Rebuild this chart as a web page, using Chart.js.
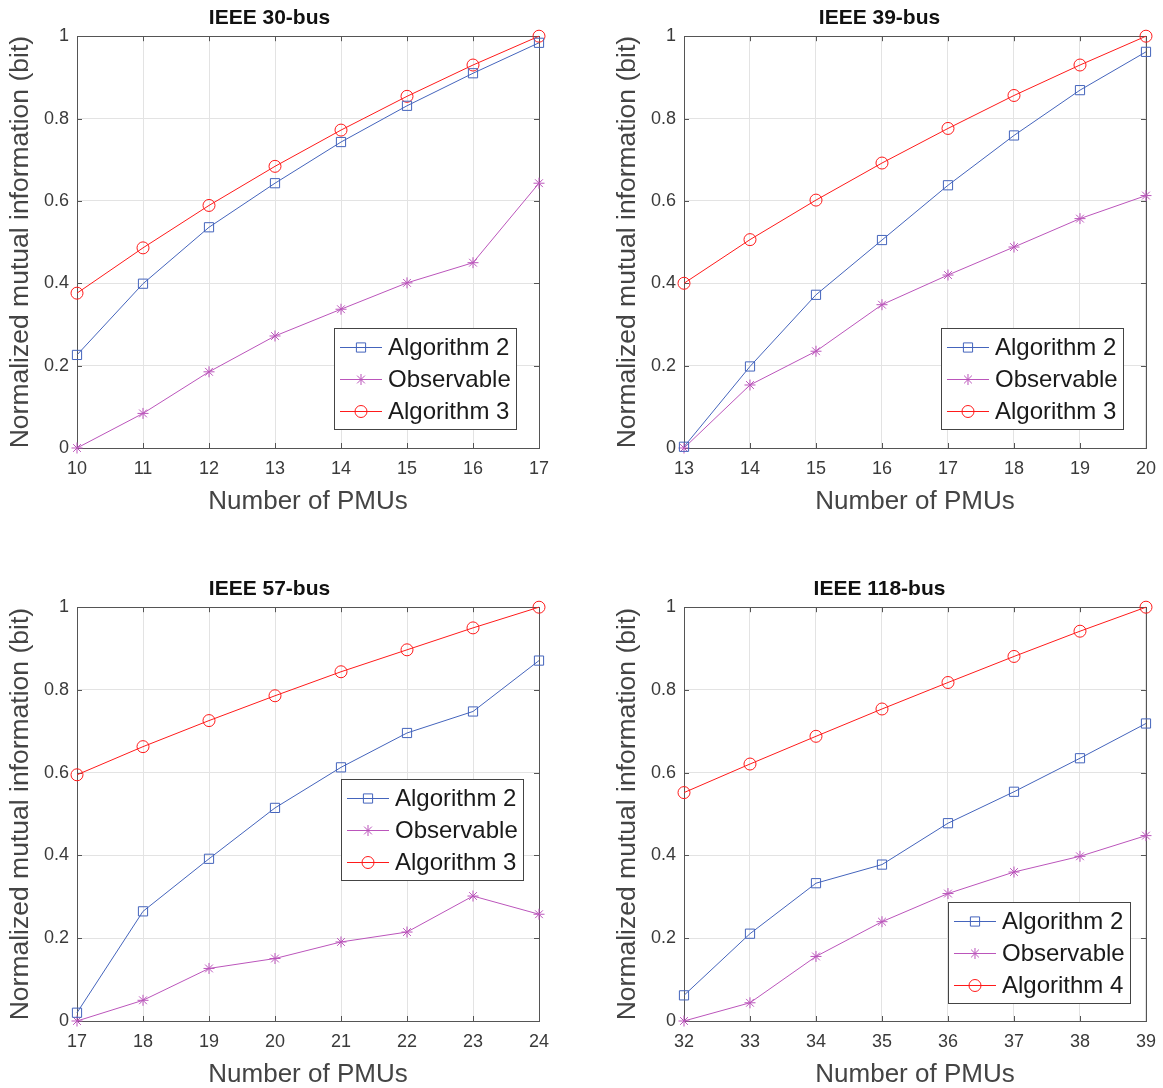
<!DOCTYPE html>
<html>
<head>
<meta charset="utf-8">
<script src="https://cdn.jsdelivr.net/npm/chart.js@4.4.1/dist/chart.umd.min.js"></script>
<style>
  body { margin: 0; background: #fff; }
  #wrap { position: relative; width: 1163px; height: 1088px; overflow: hidden; background: #fff; }
  #wrap canvas { position: absolute; }
</style>
</head>
<body>
<div id="wrap">
  <canvas id="c30" width="560" height="540" style="left:0px;top:0px"></canvas>
  <canvas id="c39" width="559" height="540" style="left:607px;top:0px"></canvas>
  <canvas id="c57" width="560" height="530" style="left:0px;top:571px"></canvas>
  <canvas id="c118" width="559" height="530" style="left:607px;top:571px"></canvas>
</div>
<script>
// ---- data ----
const pmu30 = [10, 11, 12, 13, 14, 15, 16, 17];
const alg2Bus30 = [0.226, 0.399, 0.536, 0.643, 0.743, 0.831, 0.910, 0.984];
const obsBus30 = [0, 0.084, 0.185, 0.272, 0.337, 0.401, 0.450, 0.643];
const alg3Bus30 = [0.376, 0.486, 0.589, 0.684, 0.772, 0.854, 0.930, 1.0];

const pmu39 = [13, 14, 15, 16, 17, 18, 19, 20];
const alg2Bus39 = [0.003, 0.198, 0.372, 0.505, 0.638, 0.759, 0.869, 0.962];
const obsBus39 = [0, 0.153, 0.235, 0.348, 0.420, 0.488, 0.557, 0.613];
const alg3Bus39 = [0.400, 0.506, 0.602, 0.692, 0.776, 0.856, 0.930, 1.0];

const pmu57 = [17, 18, 19, 20, 21, 22, 23, 24];
const alg2Bus57 = [0.020, 0.265, 0.392, 0.515, 0.613, 0.696, 0.748, 0.871];
const obsBus57 = [0, 0.050, 0.127, 0.151, 0.191, 0.215, 0.302, 0.258];
const alg3Bus57 = [0.595, 0.663, 0.726, 0.786, 0.844, 0.897, 0.950, 1.0];

const pmu118 = [32, 33, 34, 35, 36, 37, 38, 39];
const alg2Bus118 = [0.062, 0.211, 0.333, 0.378, 0.478, 0.554, 0.635, 0.719];
const obsBus118 = [0, 0.044, 0.156, 0.240, 0.308, 0.360, 0.398, 0.448];
const alg4Bus118 = [0.552, 0.621, 0.688, 0.754, 0.818, 0.881, 0.942, 1.0];

const seriesNames30 = ["Algorithm 2", "Observable", "Algorithm 3"];
const seriesNames118 = ["Algorithm 2", "Observable", "Algorithm 4"];

const FONT = "'Liberation Sans', Arial, Helvetica, sans-serif";
const BLUE = "#4464bc";
const MAGENTA = "#bb55bb";
const RED = "#ff1a1a";

function pts(xs, ys){
    return xs.map((x, i) => ({x: x, y: ys[i]}));
}

// axes box with inward tick marks, like matlab "box on"
const boxPlugin = {
    id: "axbox",
    beforeDatasetsDraw(chart){
        const ctx = chart.ctx;
        const a = chart.chartArea;
        const xs = chart.scales.x;
        const ys = chart.scales.y;
        ctx.save();
        ctx.strokeStyle = "#555";
        ctx.lineWidth = 1;
        ctx.strokeRect(Math.round(a.left) + 0.5, Math.round(a.top) + 0.5,
            Math.round(a.right - a.left), Math.round(a.bottom - a.top));
        ctx.beginPath();
        xs.ticks.forEach(t => {
            const px = Math.round(xs.getPixelForValue(t.value)) + 0.5;
            ctx.moveTo(px, a.bottom); ctx.lineTo(px, a.bottom - 5);
            ctx.moveTo(px, a.top); ctx.lineTo(px, a.top + 5);
        });
        ys.ticks.forEach(t => {
            const py = Math.round(ys.getPixelForValue(t.value)) + 0.5;
            ctx.moveTo(a.left, py); ctx.lineTo(a.left + 5, py);
            ctx.moveTo(a.right, py); ctx.lineTo(a.right - 5, py);
        });
        ctx.stroke();
        ctx.restore();
    }
};

// boxed legend inside the axes
const boxLegendPlugin = {
    id: "boxLegend",
    afterDraw(chart, args, opts){
        const ctx = chart.ctx;
        const a = chart.chartArea;
        const w = opts.width, h = opts.height;
        const left = a.right - opts.right - w;
        const top = a.bottom - opts.bottom - h;
        ctx.save();
        ctx.fillStyle = "#fff";
        ctx.fillRect(left, top, w, h);
        ctx.strokeStyle = "#444";
        ctx.lineWidth = 1;
        ctx.strokeRect(Math.round(left) + 0.5, Math.round(top) + 0.5, w, h);
        ctx.font = "24px " + FONT;
        ctx.textBaseline = "middle";
        chart.data.datasets.forEach((ds, i) => {
            const cy = Math.round(top + 18.5 + i * 32) + 0.5;
            ctx.strokeStyle = ds.borderColor;
            ctx.lineWidth = 1;
            ctx.beginPath();
            ctx.moveTo(left + 6, cy);
            ctx.lineTo(left + 48, cy);
            ctx.stroke();
            ctx.fillStyle = "rgba(0,0,0,0)";
            Chart.helpers.drawPoint(ctx, {
                pointStyle: ds.pointStyle,
                radius: ds.pointRadius,
                borderWidth: 1,
                rotation: 0
            }, left + 27, cy);
            ctx.fillStyle = "#1a1a1a";
            ctx.fillText(ds.label, left + 54, cy + 1);
        });
        ctx.restore();
    }
};

function makeChart(id, title, xs, s1, s2, s3, names, lay){

    const datasets = [
        {label: names[0], data: pts(xs, s1), borderColor: BLUE, pointStyle: "rect", pointRadius: 6.5},
        {label: names[1], data: pts(xs, s2), borderColor: MAGENTA, pointStyle: "star", pointRadius: 5.5},
        {label: names[2], data: pts(xs, s3), borderColor: RED, pointStyle: "circle", pointRadius: 6}
    ];

    datasets.forEach(ds => {
        ds.borderWidth = 1;
        ds.pointBorderColor = ds.borderColor;
        ds.pointBackgroundColor = "rgba(0,0,0,0)";
        ds.pointBorderWidth = 1;
        ds.fill = false;
        ds.tension = 0;
        ds.clip = false;
    });

    return new Chart(document.getElementById(id), {
        type: "line",
        data: {datasets: datasets},
        plugins: [boxPlugin, boxLegendPlugin],
        options: {
            responsive: false,
            animation: false,
            devicePixelRatio: 1,
            layout: {padding: {left: 0, right: lay.padRight, top: 0, bottom: 0}},
            plugins: {
                legend: {display: false},
                tooltip: {enabled: false},
                title: {
                    display: true,
                    text: title,
                    color: "#111",
                    font: {family: FONT, size: 21, weight: "bold", lineHeight: 1.2},
                    padding: {top: 6, bottom: 5}
                },
                boxLegend: lay.legend
            },
            scales: {
                x: {
                    type: "linear",
                    min: xs[0],
                    max: xs[xs.length - 1],
                    ticks: {stepSize: 1, color: "#3a3a3a", padding: 10,
                        font: {family: FONT, size: 18}},
                    grid: {color: "#e3e3e3", drawTicks: false},
                    border: {display: false},
                    title: {
                        display: true,
                        text: "Number of PMUs",
                        color: "#444",
                        font: {family: FONT, size: 26, lineHeight: 1.2},
                        padding: {top: 0, bottom: lay.xTitlePad}
                    },
                    afterFit(scale){ scale.height = lay.xHeight; }
                },
                y: {
                    min: 0,
                    max: 1,
                    ticks: {stepSize: 0.2, color: "#3a3a3a", padding: 8,
                        font: {family: FONT, size: 18},
                        callback: v => String(Number(v.toFixed(1)))},
                    grid: {color: "#e3e3e3", drawTicks: false},
                    border: {display: false},
                    title: {
                        display: true,
                        text: "Normalized mutual information (bit)",
                        color: "#444",
                        font: {family: FONT, size: 26.5, lineHeight: 1.2},
                        padding: {top: 5, bottom: 0}
                    },
                    afterFit(scale){ scale.width = 77; }
                }
            }
        }
    });
}

makeChart("c30", "IEEE 30-bus", pmu30, alg2Bus30, obsBus30, alg3Bus30, seriesNames30, {
    padRight: 21, xHeight: 92, xTitlePad: 23,
    legend: {width: 182, height: 101, right: 23, bottom: 19}
});

makeChart("c39", "IEEE 39-bus", pmu39, alg2Bus39, obsBus39, alg3Bus39, seriesNames30, {
    padRight: 14, xHeight: 92, xTitlePad: 23,
    legend: {width: 182, height: 101, right: 23, bottom: 19}
});

makeChart("c57", "IEEE 57-bus", pmu57, alg2Bus57, obsBus57, alg3Bus57, seriesNames30, {
    padRight: 21, xHeight: 80, xTitlePad: 11,
    legend: {width: 182, height: 101, right: 16, bottom: 141}
});

makeChart("c118", "IEEE 118-bus", pmu118, alg2Bus118, obsBus118, alg4Bus118, seriesNames118, {
    padRight: 14, xHeight: 80, xTitlePad: 11,
    legend: {width: 182, height: 101, right: 16, bottom: 18}
});
</script>
</body>
</html>
